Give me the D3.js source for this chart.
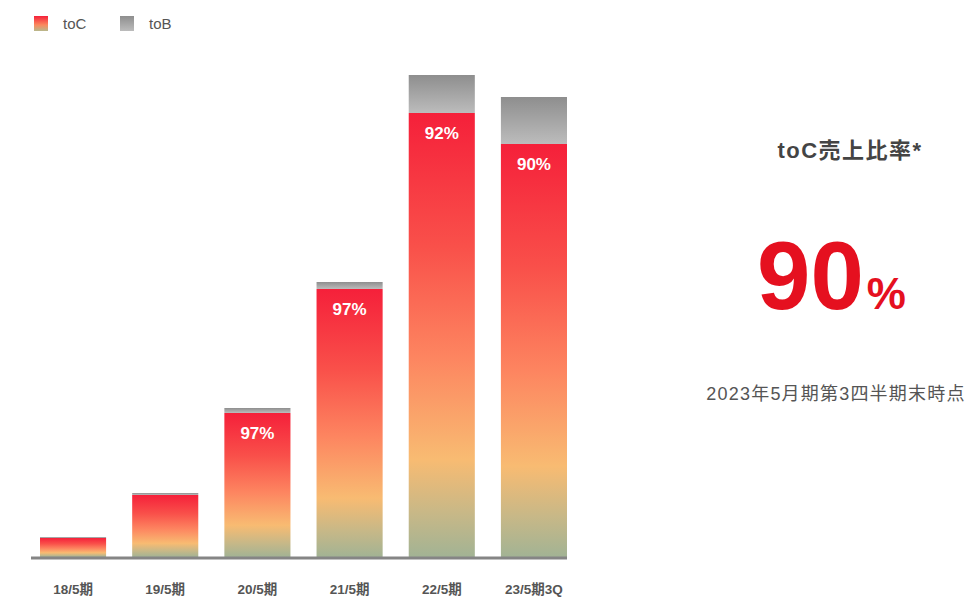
<!DOCTYPE html>
<html lang="ja">
<head>
<meta charset="utf-8">
<script src="https://d3js.org/d3.v7.min.js"></script>
<style>
  body { margin: 0; background: #fff; }
  svg text { font-family: "Liberation Sans", "Noto Sans CJK JP", sans-serif; }
</style>
</head>
<body>
<script>
// data (arbitrary units, toC + toB stacked)
var periods = ["18/5期", "19/5期", "20/5期", "21/5期", "22/5期", "23/5期3Q"];
var toC = [19, 62, 144, 268, 444, 413];
var toB = [1, 2, 5, 7, 38, 47];
var shareLabels = ["", "", "97%", "97%", "92%", "90%"];
var legendNames = ["toC", "toB"];

var width = 970, height = 597;
var baseY = 557;

var svg = d3.select("body").append("svg")
    .attr("width", width)
    .attr("height", height);

var defs = svg.append("defs");

// toC gradient: red at the top of each bar, fading to a greenish grey at the base
var gC = defs.append("linearGradient")
    .attr("id", "gradC")
    .attr("x1", 0).attr("y1", 0).attr("x2", 0).attr("y2", 1);
[[0, "#f5203a"], [0.3, "#f9504a"], [0.55, "#fd8560"], [0.78, "#f8bb72"], [0.9, "#c8b887"], [1, "#a2b394"]]
  .forEach(function(s) {
    gC.append("stop").attr("offset", s[0]).attr("stop-color", s[1]);
  });

var gB = defs.append("linearGradient")
    .attr("id", "gradB")
    .attr("x1", 0).attr("y1", 0).attr("x2", 0).attr("y2", 1);
[[0, "#8e8e8e"], [1, "#bcbcbc"]].forEach(function(s) {
  gB.append("stop").attr("offset", s[0]).attr("stop-color", s[1]);
});

var x = d3.scaleBand()
    .domain(periods)
    .range([40, 567])
    .paddingInner(0.283)
    .paddingOuter(0);

var y = d3.scaleLinear()
    .domain([0, 481])
    .range([baseY, 76]);

var data = periods.map(function(p, i) {
  return { period: p, toC: toC[i], toB: toB[i], label: shareLabels[i] };
});

// toC bars
svg.selectAll(".barC")
  .data(data)
  .enter().append("rect")
    .attr("class", "barC")
    .attr("x", function(d) { return x(d.period); })
    .attr("y", function(d) { return y(d.toC); })
    .attr("width", x.bandwidth())
    .attr("height", function(d) { return y(0) - y(d.toC); })
    .attr("fill", "url(#gradC)");

// toB bars on top
svg.selectAll(".barB")
  .data(data)
  .enter().append("rect")
    .attr("class", "barB")
    .attr("x", function(d) { return x(d.period); })
    .attr("y", function(d) { return y(d.toC + d.toB); })
    .attr("width", x.bandwidth())
    .attr("height", function(d) { return y(d.toC) - y(d.toC + d.toB); })
    .attr("fill", "url(#gradB)");

// share labels inside bars
svg.selectAll(".share")
  .data(data.filter(function(d) { return d.label; }))
  .enter().append("text")
    .attr("class", "share")
    .attr("x", function(d) { return x(d.period) + x.bandwidth() / 2; })
    .attr("y", function(d) { return y(d.toC) + 26; })
    .attr("text-anchor", "middle")
    .style("font-size", "17px")
    .style("font-weight", "bold")
    .attr("fill", "#fff")
    .text(function(d) { return d.label; });

// baseline
svg.append("line")
    .attr("x1", 31).attr("x2", 567)
    .attr("y1", baseY + 1).attr("y2", baseY + 1)
    .attr("stroke", "#858585")
    .attr("stroke-width", 3);

// x axis labels
var xAxis = d3.axisBottom(x).tickSize(0).tickPadding(0);
var gx = svg.append("g")
    .attr("transform", "translate(0," + 584 + ")")
    .call(xAxis);
gx.select(".domain").remove();
gx.selectAll("text")
    .attr("dy", "0.71em")
    .style("font-size", "13.5px")
    .style("font-weight", "bold")
    .attr("fill", "#555");

// legend
var legendFills = ["url(#gradLegC)", "url(#gradB)"];
var gL = defs.append("linearGradient")
    .attr("id", "gradLegC")
    .attr("x1", 0).attr("y1", 0).attr("x2", 0).attr("y2", 1);
[[0, "#f5203a"], [0.6, "#fb8a5e"], [1, "#b7b98c"]].forEach(function(s) {
  gL.append("stop").attr("offset", s[0]).attr("stop-color", s[1]);
});
var legend = svg.selectAll(".legend")
  .data(legendNames)
  .enter().append("g")
    .attr("class", "legend")
    .attr("transform", function(d, i) { return "translate(" + (34 + i * 86) + ",16)"; });
legend.append("rect")
    .attr("width", 14).attr("height", 15)
    .attr("fill", function(d, i) { return legendFills[i]; });
legend.append("text")
    .attr("x", 29).attr("y", 13)
    .style("font-size", "15px")
    .attr("fill", "#555")
    .text(function(d) { return d; });

// right-hand panel
svg.append("text")
    .attr("x", 850).attr("y", 158)
    .attr("text-anchor", "middle")
    .style("font-size", "22px")
    .style("font-weight", "bold")
    .style("letter-spacing", "1.5px")
    .attr("fill", "#444")
    .text("toC売上比率*");

var big = svg.append("text")
    .attr("x", 757).attr("y", 309)
    .attr("fill", "#e5101f")
    .style("font-weight", "bold");
big.append("tspan").style("font-size", "96px").text("90");
big.append("tspan").style("font-size", "44px").attr("dx", 3).text("%");

svg.append("text")
    .attr("x", 836).attr("y", 400)
    .attr("text-anchor", "middle")
    .style("font-size", "18px")
    .style("letter-spacing", "1.2px")
    .attr("fill", "#555")
    .text("2023年5月期第3四半期末時点");
</script>
</body>
</html>
